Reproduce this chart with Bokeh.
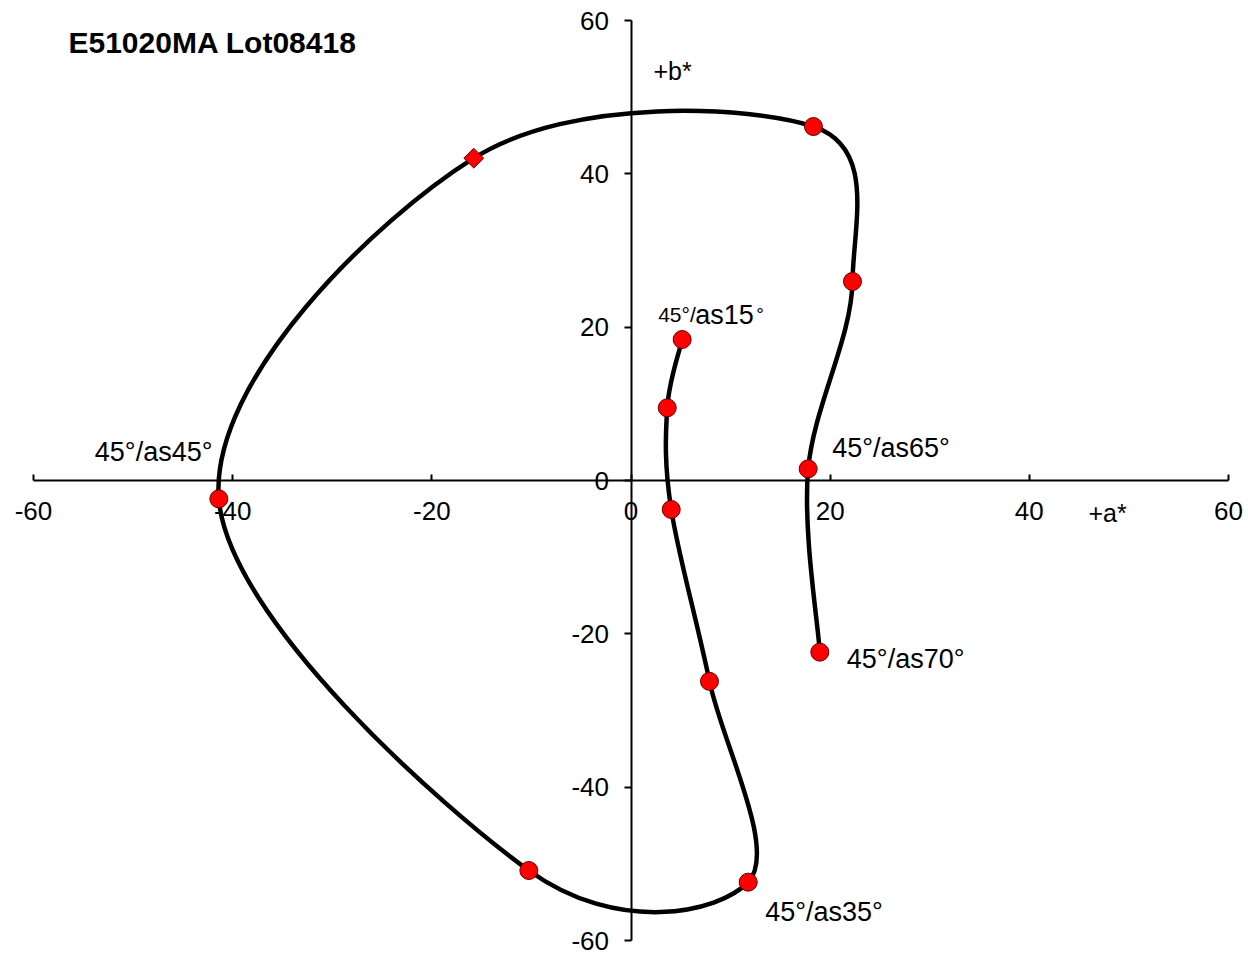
import numpy as np
from bokeh.plotting import figure
from bokeh.models import Range1d, LinearAxis, FixedTicker, ColumnDataSource
from bokeh.embed import file_html
from bokeh.resources import INLINE
from bokeh.core.properties import value

# ---------------- data ----------------
a_star = [5.14, 3.64, 4.04, 7.88, 11.77, -10.26, -41.39, -15.79, 18.32, 22.24, 17.79, 18.96]
b_star = [18.39, 9.48, -3.78, -26.2, -52.39, -50.87, -2.39, 42.04, 46.17, 25.96, 1.52, -22.39]
marker_kind = ["circle"] * 7 + ["diamond"] + ["circle"] * 4

label_index = [4, 6, 10, 11]
label_text = ["45°/as35°", "45°/as45°", "45°/as65°", "45°/as70°"]

as15_index = 0
as15_parts = ["45°/", "as15", "°"]

ticks = [-60, -40, -20, 0, 20, 40, 60]
axis_min, axis_max = -60, 60
tick_labels = {t: str(t) for t in ticks}
title_text = "E51020MA Lot08418"
b_label = "+b*"
a_label = "+a*"

# ---------------- layout / style ----------------
FONT = "Liberation Sans"
W, H = 1248, 953
BORDER_L, BORDER_R, BORDER_T, BORDER_B = 3, 3, 3, 1
# pixel positions where the axis ends (-60 / +60) should appear
PX_XMIN, PX_XMAX = 33, 1228
PX_YMAX, PX_YMIN = 20, 940
sx = (PX_XMAX - PX_XMIN) / (axis_max - axis_min)
sy = (PX_YMIN - PX_YMAX) / (axis_max - axis_min)
x_start = axis_min - (PX_XMIN - BORDER_L) / sx
x_end = axis_max + ((W - BORDER_R) - PX_XMAX) / sx
y_end = axis_max + (PX_YMAX - BORDER_T) / sy
y_start = axis_min - ((H - BORDER_B) - PX_YMIN) / sy

TXT_SHIFT = -8  # correction so text baselines land where intended

label_dx = [17, -124, 24, 27]
label_dy = [38 + TXT_SHIFT, -39 + TXT_SHIFT, -13 + TXT_SHIFT, 15 + TXT_SHIFT]
as15_sizes = ["21px", "27px", "19px"]
as15_dx = [-24, 13, 74]
as15_dy = -17 + TXT_SHIFT

p = figure(width=W, height=H, output_backend="svg", toolbar_location=None,
           x_range=Range1d(x_start, x_end), y_range=Range1d(y_start, y_end),
           x_axis_type=None, y_axis_type=None, title=None,
           min_border_left=BORDER_L, min_border_right=BORDER_R,
           min_border_top=BORDER_T, min_border_bottom=BORDER_B)
p.outline_line_color = None
p.background_fill_color = "white"
p.border_fill_color = "white"
p.xgrid.visible = False
p.ygrid.visible = False

xaxis = LinearAxis(fixed_location=0, ticker=FixedTicker(ticks=ticks), level="underlay",
                   bounds=(axis_min, axis_max))
yaxis = LinearAxis(fixed_location=0, ticker=FixedTicker(ticks=ticks), level="underlay",
                   bounds=(axis_min, axis_max))
for ax in (xaxis, yaxis):
    ax.axis_line_color = "black"
    ax.axis_line_width = 2
    ax.major_tick_line_color = "black"
    ax.major_tick_line_width = 2
    ax.minor_tick_in = 0
    ax.minor_tick_out = 0
    ax.major_label_text_font = FONT
    ax.major_label_text_font_size = "26px"
    ax.major_label_text_color = "black"
    ax.major_label_overrides = tick_labels
xaxis.major_tick_in = 6
xaxis.major_tick_out = 0
xaxis.major_label_standoff = 21
yaxis.major_tick_in = 0
yaxis.major_tick_out = 7
yaxis.major_label_standoff = 15
p.add_layout(xaxis, "below")
p.add_layout(yaxis, "left")

# ---------------- smooth curve (Excel-like smoothing via cubic Bezier) ----------------
P = np.column_stack([a_star, b_star]).astype(float)
n = len(P)
segs = dict(x0=[], y0=[], x1=[], y1=[], cx0=[], cy0=[], cx1=[], cy1=[])
for i in range(n - 1):
    p0, p1 = P[i], P[i + 1]
    pm = P[i - 1] if i > 0 else P[i]
    p2 = P[i + 2] if i + 2 < n else P[i + 1]
    c0 = p0 + (p1 - pm) / 6.0
    c1 = p1 - (p2 - p0) / 6.0
    segs["x0"].append(p0[0]); segs["y0"].append(p0[1])
    segs["x1"].append(p1[0]); segs["y1"].append(p1[1])
    segs["cx0"].append(c0[0]); segs["cy0"].append(c0[1])
    segs["cx1"].append(c1[0]); segs["cy1"].append(c1[1])
p.bezier(x0="x0", y0="y0", x1="x1", y1="y1", cx0="cx0", cy0="cy0", cx1="cx1", cy1="cy1",
         source=ColumnDataSource(segs), line_color="black", line_width=4.5)

# ---------------- markers ----------------
ci = [i for i, k in enumerate(marker_kind) if k == "circle"]
di = [i for i, k in enumerate(marker_kind) if k == "diamond"]
p.scatter([a_star[i] for i in ci], [b_star[i] for i in ci], marker="circle", size=18,
          fill_color="#FF0000", line_color="#600000", line_width=1)
p.scatter([a_star[i] for i in di], [b_star[i] for i in di], marker="square", size=14,
          angle=np.pi / 4, fill_color="#FF0000", line_color="#600000", line_width=1)

# ---------------- point labels ----------------
p.text(x=[a_star[i] for i in label_index], y=[b_star[i] for i in label_index], text=label_text,
       x_offset=label_dx, y_offset=label_dy, text_font=value(FONT), text_font_size="27px",
       text_color="black", text_align="left", text_baseline="alphabetic")
for part, size, dx in zip(as15_parts, as15_sizes, as15_dx):
    p.text(x=[a_star[as15_index]], y=[b_star[as15_index]], text=[part],
           x_offset=dx, y_offset=as15_dy, text_font=value(FONT), text_font_size=size,
           text_color="black", text_align="left", text_baseline="alphabetic")

# ---------------- axis names and title ----------------
p.text(x=[2.26], y=[52.43], text=[b_label], y_offset=TXT_SHIFT, text_font=value(FONT),
       text_font_size="25px", text_color="black", text_align="left", text_baseline="alphabetic")
p.text(x=[45.94], y=[-5.22], text=[a_label], y_offset=TXT_SHIFT, text_font=value(FONT),
       text_font_size="25px", text_color="black", text_align="left", text_baseline="alphabetic")
p.text(x=[-56.49], y=[56.09], text=[title_text], y_offset=TXT_SHIFT, text_font=value(FONT),
       text_font_size="30px", text_font_style="bold", text_color="black",
       text_align="left", text_baseline="alphabetic")

open("out.html", "w").write(file_html(p, INLINE))
